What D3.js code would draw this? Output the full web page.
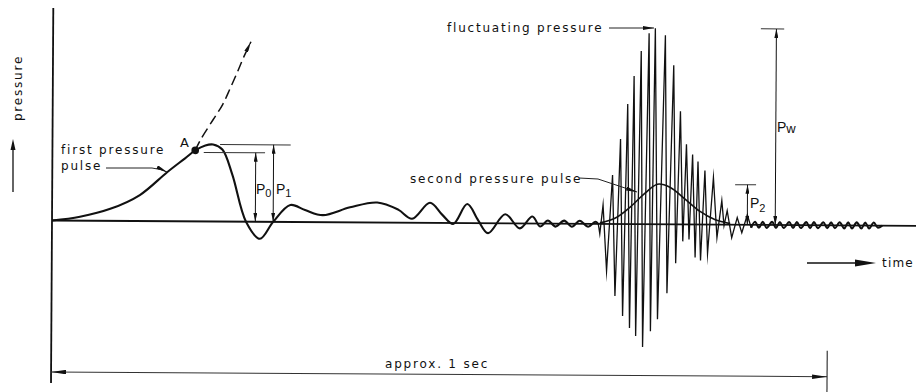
<!DOCTYPE html>
<html>
<head>
<meta charset="utf-8">
<script src="https://cdn.jsdelivr.net/npm/d3@7"></script>
<style>
    body { margin: 0; background: #fff; }
    svg { display: block; }
    text { font-family: "DejaVu Sans", sans-serif; fill: #111; }
    .sym { font-family: "Liberation Sans", Arial, sans-serif; }
</style>
</head>
<body>
<div class="pressureChart"></div>
<script>
// time in ms (0 .. approx. 1 sec), pressure above static level (arbitrary units)
const firstPulseTime     = [0, 36, 75, 113, 148, 171, 184, 197, 207, 219, 232, 250, 268, 285, 307, 326, 349, 384, 419, 446, 464, 487, 503, 517, 535, 549, 562, 584, 603, 619, 629, 639, 649, 660, 670, 680, 691, 700, 704];
const firstPulsePressure = [0, 4, 12, 26, 49, 63, 71, 76, 77, 72, 47, 0, -17, 0, 17, 12, 7, 15, 20, 13, 4, 20, 8, -1, 19, 3, -10, 9, -5, 7, -3, 3, -3, 3, -3, 3, -3, 2, 0];

// fluctuating pressure (burst)
const burstTime     = [704, 706, 710, 715, 722, 726, 732, 736, 741, 745, 749, 753, 758, 762, 768, 772, 776, 781, 789, 793, 800, 804, 809, 813, 817, 821, 825, 829, 832, 836, 841, 845, 852, 857, 863, 866, 870, 876, 883, 889, 896, 901];
const burstPressure = [0, -10, 19, -47, 49, -72, 85, -92, 120, -104, 148, -112, 173, -123, 191, -107, 196, -95, 189, -69, 159, -39, 113, -17, 80, -15, 70, -33, 63, -36, 54, -29, 47, -13, 24, -1, 14, -13, 7, -8, 10, -3];

// small ripple after the burst
const tailTime     = [901, 906, 911, 916, 921, 928, 933, 938, 943, 950, 955, 960, 965, 972, 977, 982, 987, 994, 999, 1004, 1009, 1015, 1021, 1026, 1031, 1037, 1043, 1048, 1053, 1059, 1064, 1070];
const tailPressure = [-3, 3, -3, 3, -3, 3, -3, 3, -3, 3, -3, 3, -3, 3, -3, 3, -3, 3, -3, 3, -3, 3, -3, 3, -3, 3, -3, 3, -3, 3, -2, 0];

const secondPulseTime     = [706, 726, 745, 764, 780, 796, 816, 835, 854, 874];
const secondPulsePressure = [1, 6, 17, 31, 40, 37, 25, 13, 5, 1];

// dashed continuation of the first pulse from point A
const extrapTime     = [184, 191, 207, 219, 229, 238, 246, 255];
const extrapPressure = [71, 82, 102, 117, 134, 150, 165, 180];

const pointA = [184, 71];

const dimNames  = ["0", "1", "2", "w"];
const dimValues = [69, 77, 40, 196];

class PressureChart{

    constructor(selector){
        this.selector = selector;
        this.width = 916;
        this.height = 392;
    }

    draw(){
        this.svg = d3.select(this.selector).append("svg")
            .attr("width", this.width)
            .attr("height", this.height);

        this.createMarkers();

        this.x = d3.scaleLinear().domain([0, 1000]).range([52, 828]);
        this.y = d3.scaleLinear().domain([0, 200]).range([220.5, 20.5]);

        // the scanned figure is tilted a little
        this.g = this.svg.append("g").attr("transform", "rotate(0.35, 52, 220.5)");

        this.createAxes();
        this.createTraces();
        this.createDimensions();
        this.createLabels();
    }

    createMarkers(){
        let defs = this.svg.append("defs");
        let addMarker = (id, len, wid) => {
            defs.append("marker")
                .attr("id", id)
                .attr("viewBox", `0 0 ${len} ${wid}`)
                .attr("refX", len).attr("refY", wid / 2)
                .attr("markerWidth", len).attr("markerHeight", wid)
                .attr("markerUnits", "userSpaceOnUse")
                .attr("orient", "auto-start-reverse")
                .append("path")
                .attr("d", `M0,0L${len},${wid / 2}L0,${wid}Z`)
                .attr("fill", "#111");
        };
        addMarker("dimHead", 9, 4);
        addMarker("longHead", 15, 4.5);
        addMarker("leadHead", 11, 4);
    }

    createAxes(){
        const g = this.g, x = this.x, y = this.y;

        // pressure axis and time axis
        g.append("line")
            .attr("x1", x(0)).attr("x2", x(0))
            .attr("y1", 8).attr("y2", 383)
            .attr("stroke", "#111").attr("stroke-width", 1.8);
        g.append("line")
            .attr("x1", x(0)).attr("x2", 925)
            .attr("y1", y(0)).attr("y2", y(0))
            .attr("stroke", "#111").attr("stroke-width", 1.8);

        // approx. 1 sec span
        g.append("line")
            .attr("x1", x(0)).attr("x2", x(1000))
            .attr("y1", 372).attr("y2", 372)
            .attr("stroke", "#333").attr("stroke-width", 1)
            .attr("marker-start", "url(#longHead)")
            .attr("marker-end", "url(#longHead)");
        g.append("line")
            .attr("x1", x(1000)).attr("x2", x(1000))
            .attr("y1", 346).attr("y2", 395)
            .attr("stroke", "#111").attr("stroke-width", 1);
    }

    createTraces(){
        const g = this.g, x = this.x, y = this.y;

        let smooth = d3.line()
            .x(d => x(d[0])).y(d => y(d[1]))
            .curve(d3.curveCatmullRom.alpha(0.5));
        let straight = d3.line()
            .x(d => x(d[0])).y(d => y(d[1]));

        g.append("path")
            .attr("d", smooth(d3.zip(firstPulseTime, firstPulsePressure)))
            .attr("fill", "none").attr("stroke", "#111").attr("stroke-width", 2.1);

        g.append("path")
            .attr("d", straight(d3.zip(burstTime, burstPressure)))
            .attr("fill", "none").attr("stroke", "#111").attr("stroke-width", 1.3)
            .attr("stroke-linejoin", "miter").attr("stroke-miterlimit", 20);

        g.append("path")
            .attr("d", smooth(d3.zip(tailTime, tailPressure)))
            .attr("fill", "none").attr("stroke", "#111").attr("stroke-width", 2.1);

        g.append("path")
            .attr("d", smooth(d3.zip(secondPulseTime, secondPulsePressure)))
            .attr("fill", "none").attr("stroke", "#111").attr("stroke-width", 1.6);

        g.append("path")
            .attr("d", smooth(d3.zip(extrapTime, extrapPressure)))
            .attr("fill", "none").attr("stroke", "#111").attr("stroke-width", 1.5)
            .attr("stroke-dasharray", "10,5")
            .attr("marker-end", "url(#leadHead)");

        g.append("circle")
            .attr("cx", x(pointA[0])).attr("cy", y(pointA[1]))
            .attr("r", 3.8).attr("fill", "#111");
    }

    createDimensions(){
        const g = this.g, x = this.x, y = this.y;
        // where each dimension arrow sits on the time axis
        const dimAt = [262, 285, 896, 932];
        const capFrom = [195, 216, 880, 912];
        const capTo = [274, 307, 907, 942];

        dimValues.forEach((v, i) => {
            g.append("line")
                .attr("x1", x(capFrom[i])).attr("x2", x(capTo[i]))
                .attr("y1", y(v)).attr("y2", y(v))
                .attr("stroke", "#333").attr("stroke-width", 1);
            g.append("line")
                .attr("x1", x(dimAt[i])).attr("x2", x(dimAt[i]))
                .attr("y1", y(v)).attr("y2", y(0))
                .attr("stroke", "#111").attr("stroke-width", 1)
                .attr("marker-start", "url(#dimHead)")
                .attr("marker-end", "url(#dimHead)");
        });
    }

    createLabels(){
        const svg = this.svg;
        let label = (txt, xPos, yPos, spacing = 1.8) => svg.append("text")
            .attr("x", xPos).attr("y", yPos)
            .attr("font-size", 12)
            .attr("letter-spacing", spacing)
            .text(txt);

        label("first pressure", 61, 154);
        label("pulse", 61, 170);
        label("A", 180, 147, 0).attr("font-size", 13);
        label("second pressure pulse", 410, 183);
        label("fluctuating pressure", 447, 32);
        label("approx. 1 sec", 385, 368);
        label("time", 882, 267, 1.2);

        svg.append("text")
            .attr("transform", "translate(22,88) rotate(-90)")
            .attr("text-anchor", "middle")
            .attr("font-size", 12)
            .attr("letter-spacing", 1.8)
            .text("pressure");

        // P labels with subscripts: x, baseline, size, subscript size, subscript shift
        const symPos = [[256, 194, 14, 11, 3], [276, 194, 14, 11, 3], [750, 208, 14, 11, 4], [777, 132, 14, 13, 1]];
        dimNames.forEach((n, i) => {
            let s = symPos[i];
            let t = svg.append("text").attr("class", "sym")
                .attr("x", s[0]).attr("y", s[1])
                .attr("font-size", s[2]);
            t.append("tspan").text("P");
            t.append("tspan").attr("dy", s[4]).attr("font-size", s[3]).text(n);
        });

        // leader lines
        let leader = d => svg.append("path").attr("d", d)
            .attr("fill", "none").attr("stroke", "#222").attr("stroke-width", 1)
            .attr("marker-end", "url(#leadHead)");
        leader("M106,168 L152,168 Q161,169 167,172");
        leader("M579,178 L598,179 L637,192");
        leader("M609,28 L654,28");

        // pressure and time arrows
        svg.append("line").attr("x1", 13).attr("x2", 13).attr("y1", 192).attr("y2", 146)
            .attr("stroke", "#111").attr("stroke-width", 1.3);
        svg.append("path").attr("d", "M10.5,150 L13,139 L15.5,150 Z").attr("fill", "#111");
        svg.append("line").attr("x1", 807).attr("x2", 860).attr("y1", 263).attr("y2", 263)
            .attr("stroke", "#111").attr("stroke-width", 1.3);
        svg.append("path").attr("d", "M855,259.5 L876,263 L855,266.5 Z").attr("fill", "#111");
    }
}

let chart = new PressureChart(".pressureChart");
chart.draw();
</script>
</body>
</html>
